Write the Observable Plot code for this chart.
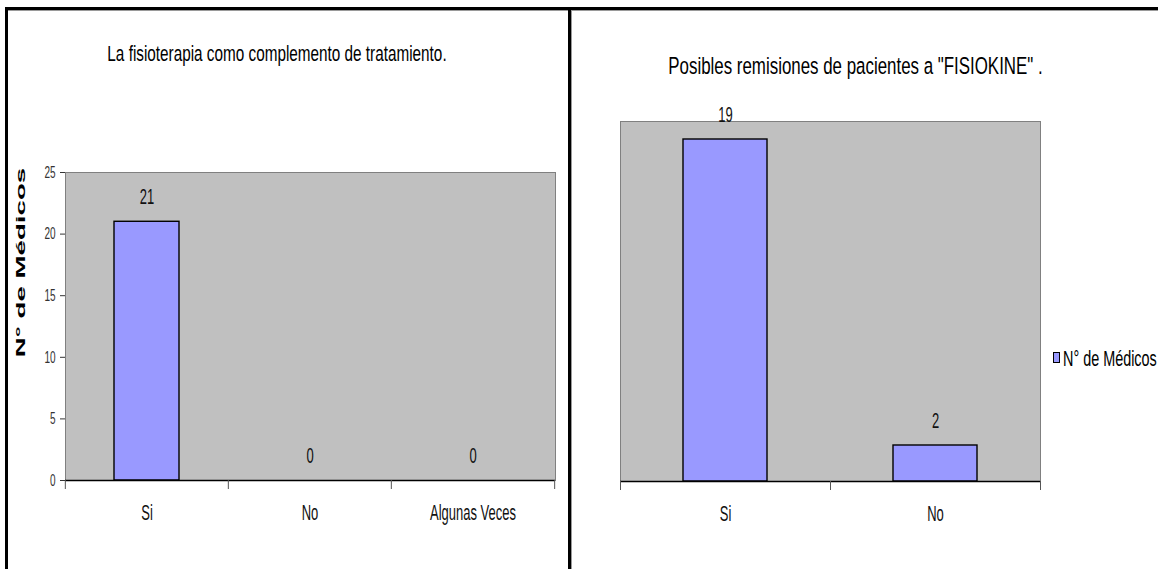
<!DOCTYPE html>
<html>
<head>
<meta charset="utf-8">
<script src="https://cdn.jsdelivr.net/npm/d3@7"></script>
<script src="https://cdn.jsdelivr.net/npm/@observablehq/plot@0.6"></script>
<style>
  html, body { margin: 0; padding: 0; background: #fff; }
  #page { position: relative; width: 1158px; height: 569px; overflow: hidden; background: #fff;
          font-family: "Liberation Sans", Arial, sans-serif; color: #000; }
  .panel { position: absolute; top: 0; }
  .rule { position: absolute; background: #000; }
  .rule.soft { background: #9a9a9a; }
  .title { position: absolute; white-space: nowrap; line-height: 1; transform-origin: 50% 50%; }
  .legend-swatch { position: absolute; box-sizing: border-box; border: 1px solid #000; background: #9999ff; }
  .legend-text { position: absolute; white-space: nowrap; line-height: 1; transform-origin: 0 50%; }
</style>
</head>
<body>
<div id="page"></div>
<script>
// Encuesta a médicos: respuestas por pregunta
const categoriasTratamiento = ["Si", "No", "Algunas Veces"];
const medicosTratamiento = [21, 0, 0];
const ticksTratamiento = [0, 5, 10, 15, 20, 25];

const categoriasRemision = ["Si", "No"];
const medicosRemision = [19, 2];

const tituloTratamiento = "La fisioterapia como complemento de tratamiento.";
const tituloRemision = "Posibles remisiones de pacientes a \"FISIOKINE\" .";
const etiquetaSerie = "N° de Médicos";

const FONT = '"Liberation Sans", Arial, sans-serif';
const BAR_FILL = "#9999ff";
const PLOT_BG = "#c0c0c0";

function tabla(cats, vals) {
  return cats.map((c, i) => ({categoria: c, valor: vals[i]}));
}

// Tall, narrow lettering: stretch each label vertically around its own anchor
function estirarTextos(svg, sy, syEje, sxRot) {
  d3.select(svg).selectAll("text").each(function () {
    const enEje = !!this.closest('[aria-label="y-axis tick label"], [aria-label="y-axis"]');
    const s = enEje ? syEje : sy;
    const tf = this.getAttribute("transform");
    if (tf) {
      this.setAttribute("transform", tf + (tf.includes("rotate") ? ` scale(${sxRot},1)` : ` scale(1,${s})`));
    } else {
      const x = +this.getAttribute("x") || 0;
      const y = +this.getAttribute("y") || 0;
      this.removeAttribute("x");
      this.removeAttribute("y");
      this.setAttribute("transform", `translate(${x},${y}) scale(1,${s})`);
    }
  });
}

function graficoBarras({cats, vals, yMax, yTicks, width, height, margin, yLabel}) {
  const data = tabla(cats, vals);
  const frameH = height - margin.top - margin.bottom;
  const step = (width - margin.left - margin.right) / cats.length;
  const ultimo = cats[cats.length - 1];

  const marks = [
    Plot.frame({fill: PLOT_BG, stroke: "#808080"}),
    Plot.barY(data, {x: "categoria", y: "valor", fill: BAR_FILL, stroke: "#000", strokeWidth: 1.4}),
    Plot.ruleY([0], {stroke: "#000", strokeWidth: 1.6}),
    // category separators hanging below the baseline
    Plot.ruleX(cats, {x: (d) => d, dx: -step / 2, stroke: "#555", insetTop: frameH, insetBottom: -9}),
    Plot.ruleX([ultimo], {x: (d) => d, dx: step / 2, stroke: "#555", insetTop: frameH, insetBottom: -9}),
    Plot.text(data, {x: "categoria", y: "valor", text: (d) => String(d.valor), dy: -25, fontSize: 13, fill: "#111"}),
    Plot.text(cats, {x: (d) => d, text: (d) => d, frameAnchor: "bottom", dy: 39, fontSize: 13, fill: "#111"})
  ];
  if (yLabel) {
    marks.push(Plot.text([yLabel], {
      text: (d) => d, frameAnchor: "left", textAnchor: "middle", dx: -45, dy: -64, rotate: -90,
      fontWeight: "bold", fontSize: 13.5, fill: "#000"
    }));
  }

  const svg = Plot.plot({
    width, height,
    marginTop: margin.top, marginRight: margin.right, marginBottom: margin.bottom, marginLeft: margin.left,
    style: {fontFamily: FONT, fontSize: "10px", color: "#333", background: "transparent", overflow: "visible"},
    x: {domain: cats, paddingInner: 0.6, paddingOuter: 0.3, axis: null},
    y: yTicks
      ? {domain: [0, yMax], ticks: yTicks, tickSize: 5, tickPadding: 5, label: null}
      : {domain: [0, yMax], axis: null},
    marks
  });
  estirarTextos(svg, 1.75, 1.65, 2.05);
  return svg;
}

const page = document.getElementById("page");

function panel(left, svg) {
  const div = document.createElement("div");
  div.className = "panel";
  div.style.left = left + "px";
  div.appendChild(svg);
  page.appendChild(div);
}

panel(0, graficoBarras({
  cats: categoriasTratamiento, vals: medicosTratamiento, yMax: 25, yTicks: ticksTratamiento,
  width: 568, height: 569, margin: {top: 172, right: 13, bottom: 89, left: 65}, yLabel: etiquetaSerie
}));

panel(568, graficoBarras({
  cats: categoriasRemision, vals: medicosRemision, yMax: 20, yTicks: null,
  width: 590, height: 569, margin: {top: 121, right: 118, bottom: 88, left: 52}, yLabel: null
}));

function titulo(text, cx, cy, size, sy) {
  const div = document.createElement("div");
  div.className = "title";
  div.textContent = text;
  div.style.left = cx + "px";
  div.style.top = cy + "px";
  div.style.fontSize = size + "px";
  div.style.transform = `translate(-50%, -50%) scaleY(${sy})`;
  page.appendChild(div);
}
titulo(tituloTratamiento, 277, 53, 15.3, 1.5);
titulo(tituloRemision, 855.5, 67, 16.9, 1.45);

// legend
const sw = document.createElement("div");
sw.className = "legend-swatch";
Object.assign(sw.style, {left: "1053px", top: "352px", width: "7px", height: "11px"});
page.appendChild(sw);
const lt = document.createElement("div");
lt.className = "legend-text";
lt.textContent = etiquetaSerie;
Object.assign(lt.style, {left: "1063px", top: "358.5px", fontSize: "14.4px", transform: "translateY(-50%) scaleY(1.55)"});
page.appendChild(lt);

// sheet borders
function linea(l, t, w, h, soft) {
  const d = document.createElement("div");
  d.className = "rule" + (soft ? " soft" : "");
  Object.assign(d.style, {left: l + "px", top: t + "px", width: w + "px", height: h + "px"});
  page.appendChild(d);
}
linea(5, 7, 1153, 3);
linea(8, 10, 560, 1, true);
linea(572, 10, 586, 1, true);
linea(5, 7, 3, 562);
linea(568, 7, 3, 562);
linea(571, 10, 1, 559, true);
</script>
</body>
</html>
